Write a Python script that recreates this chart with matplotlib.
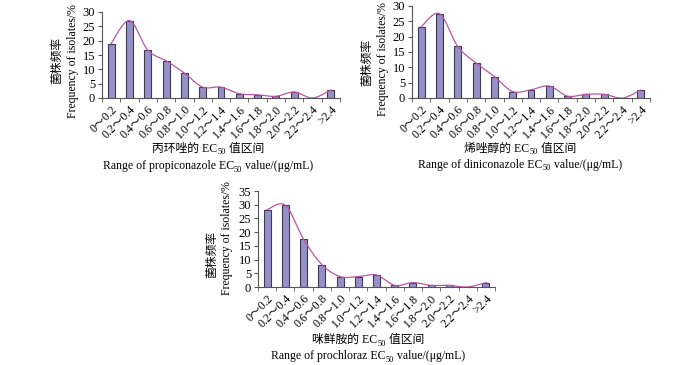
import numpy as np
import matplotlib
matplotlib.use('Agg')
import matplotlib.pyplot as plt

plt.rcParams['font.family'] = ['Liberation Serif', 'Noto Sans CJK SC', 'DejaVu Sans']

# EC50 range categories (same for all three panels)
categories = ['0～0.2', '0.2～0.4', '0.4～0.6', '0.6～0.8', '0.8～1.0', '1.0～1.2',
              '1.2～1.4', '1.4～1.6', '1.6～1.8', '1.8～2.0', '2.0～2.2', '2.2～2.4', '>2.4']

# frequency of isolates (%)
propiconazole = [19.0, 27.0, 16.7, 13.0, 8.7, 3.8, 3.8, 1.5, 1.1, 0.6, 2.1, 0.0, 2.8]
diniconazole = [23.2, 27.5, 16.8, 11.4, 7.0, 2.1, 2.7, 3.9, 0.6, 1.2, 1.2, 0.0, 2.6]
prochloraz = [28.2, 29.8, 17.4, 8.2, 3.8, 3.8, 4.4, 0.6, 1.6, 0.6, 0.6, 0.0, 1.6]

W, H = 700, 365
fig = plt.figure(figsize=(W / 100, H / 100), dpi=100)
renderer = fig.canvas.get_renderer()

BAR = '#9590c8'
LINE = '#bb55a8'
FS = 8.5


def smooth(x, y, n=24):
    # Catmull-Rom curve through the bar tops (like Excel's smoothed line)
    x = np.asarray(x, float)
    y = np.asarray(y, float)
    px = np.concatenate([[x[0]], x, [x[-1]]])
    py = np.concatenate([[y[0]], y, [y[-1]]])
    xs, ys = [], []
    t = np.linspace(0, 1, n)
    for i in range(1, len(px) - 2):
        for p, out in ((px, xs), (py, ys)):
            p0, p1, p2, p3 = p[i - 1], p[i], p[i + 1], p[i + 2]
            out.extend(0.5 * (2 * p1 + (-p0 + p2) * t
                              + (2 * p0 - 5 * p1 + 4 * p2 - p3) * t ** 2
                              + (-p0 + 3 * p1 - 3 * p2 + p3) * t ** 3))
    return xs, ys


def rich_line(xc, y, parts, size=FS):
    # draw a line of text made of normal / subscript pieces, centred at xc (pixels)
    arts = []
    x = 0
    for s, sub in parts:
        t = fig.text(0, 0, s, fontsize=size * 0.7 if sub else size, va='baseline')
        w = t.get_window_extent(renderer).width
        arts.append((t, x, sub))
        x += w
    x0 = xc - x / 2
    for t, off, sub in arts:
        t.set_position(((x0 + off) / W, (H - y - (2.5 if sub else 0)) / H))


def panel(box, values, ymax, cn_name, en_name, ylab_x, ylab_y, xlab_x, xlab_y):
    l, t, r, b = box
    ax = fig.add_axes([l / W, (H - b) / H, (r - l) / W, (b - t) / H])
    x = np.arange(len(values))
    ax.bar(x, values, width=0.38, color=BAR, edgecolor='#3c3a55', linewidth=0.8)
    sx, sy = smooth(x, values)
    ax.plot(sx, sy, color=LINE, lw=0.9)
    ax.set_xlim(-0.5, len(values) - 0.5)
    ax.set_ylim(0, ymax)
    ax.set_yticks(np.arange(0, ymax + 1, 5))
    ax.set_xticks(x)
    ax.set_xticklabels(categories, rotation=45, ha='right', va='top',
                       rotation_mode='anchor', fontsize=FS)
    ax.set_xticks(np.arange(-0.5, len(values), 1), minor=True)
    ax.tick_params(axis='x', which='major', length=0, pad=4)
    ax.tick_params(axis='x', which='minor', length=3, direction='out', color='#555555')
    ax.tick_params(axis='y', length=3, direction='out', color='#555555', labelsize=FS + 0.5, pad=2)
    for s in ('top', 'right'):
        ax.spines[s].set_visible(False)
    for s in ('left', 'bottom'):
        ax.spines[s].set_color('#555555')
        ax.spines[s].set_linewidth(0.8)
    # y labels
    fig.text(ylab_x[0] / W, (H - ylab_y[0]) / H, '菌株频率', rotation=90,
             ha='center', va='center', fontsize=FS)
    fig.text(ylab_x[1] / W, (H - ylab_y[1]) / H, 'Frequency of isolates/%', rotation=90,
             ha='center', va='center', fontsize=FS)
    # x labels
    rich_line(xlab_x, xlab_y[0], [(cn_name + '的 EC', False), ('50', True), (' 值区间', False)], FS)
    rich_line(xlab_x, xlab_y[1], [('Range of ' + en_name + ' EC', False), ('50', True),
                                  (' value/(μg/mL)', False)], FS)
    return ax


panel((102, 12, 340, 98), propiconazole, 30, '丙环唑', 'propiconazole',
      (57, 73), (60, 61), 208, (152, 169))
panel((412, 6, 650, 98), diniconazole, 30, '烯唑醇', 'diniconazole',
      (367, 383), (63, 59), 520, (152, 168))
panel((258, 191, 495, 287), prochloraz, 35, '咪鲜胺', 'prochloraz',
      (212, 227), (255, 238), 368, (343, 359))

fig.savefig('out.png', dpi=100)
